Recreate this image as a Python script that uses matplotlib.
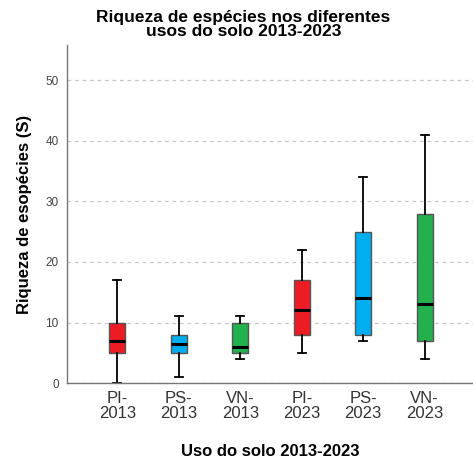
import matplotlib.pyplot as plt

plt.rcParams["font.family"] = ["Liberation Sans", "DejaVu Sans"]

# Data (five-number summaries)
labels = ["PI-\n2013", "PS-\n2013", "VN-\n2013", "PI-\n2023", "PS-\n2023", "VN-\n2023"]
whislo = [0, 1, 4, 5, 7, 4]
q1 = [5, 5, 5, 8, 8, 7]
med = [7, 6.5, 6, 12, 14, 13]
q3 = [10, 8, 10, 17, 25, 28]
whishi = [17, 11, 11, 22, 34, 41]
colors = ["#ED1C24", "#00AEEF", "#22B14C", "#ED1C24", "#00AEEF", "#22B14C"]

stats = []
for i in range(len(labels)):
    stats.append(dict(label=labels[i], whislo=whislo[i], q1=q1[i], med=med[i],
                      q3=q3[i], whishi=whishi[i], fliers=[]))

fig = plt.figure(figsize=(4.73, 4.66), dpi=100)
ax = fig.add_axes([0.1417, 0.178, 0.86, 0.725])

bp = ax.bxp(stats, positions=range(1, 7), widths=0.26, patch_artist=True,
            showfliers=False,
            boxprops=dict(edgecolor="#555555", linewidth=1.0),
            medianprops=dict(color="black", linewidth=2.2),
            whiskerprops=dict(color="black", linewidth=1.3),
            capprops=dict(color="black", linewidth=1.3), capwidths=0.13)
for patch, c in zip(bp["boxes"], colors):
    patch.set_facecolor(c)

ax.set_xlim(0.18, 6.8)
ax.set_ylim(0, 55.8)
ax.set_yticks([0, 10, 20, 30, 40, 50])
ax.yaxis.grid(True, linestyle=(0, (3, 3)), color="#C8C8C8", linewidth=0.9)
ax.set_axisbelow(True)
ax.tick_params(axis="both", length=0)
ax.tick_params(axis="y", labelsize=8.5, labelcolor="#444444", pad=6)
ax.tick_params(axis="x", labelsize=12, labelcolor="#333333", pad=6)
for lbl in ax.get_xticklabels():
    lbl.set_linespacing(0.95)

for s in ["top", "right"]:
    ax.spines[s].set_visible(False)
for s in ["left", "bottom"]:
    ax.spines[s].set_color("#777777")
    ax.spines[s].set_linewidth(1.0)

ax.set_ylabel("Riqueza de esopécies (S)", fontsize=12, fontweight="bold", labelpad=10)
ax.set_xlabel("Uso do solo 2013-2023", fontsize=12, fontweight="bold", labelpad=17)
fig.text(0.515, 0.948, "Riqueza de espécies nos diferentes\nusos do solo 2013-2023",
         ha="center", va="center", fontsize=12.5, fontweight="bold", linespacing=0.95)

plt.savefig("out.png", dpi=100)
